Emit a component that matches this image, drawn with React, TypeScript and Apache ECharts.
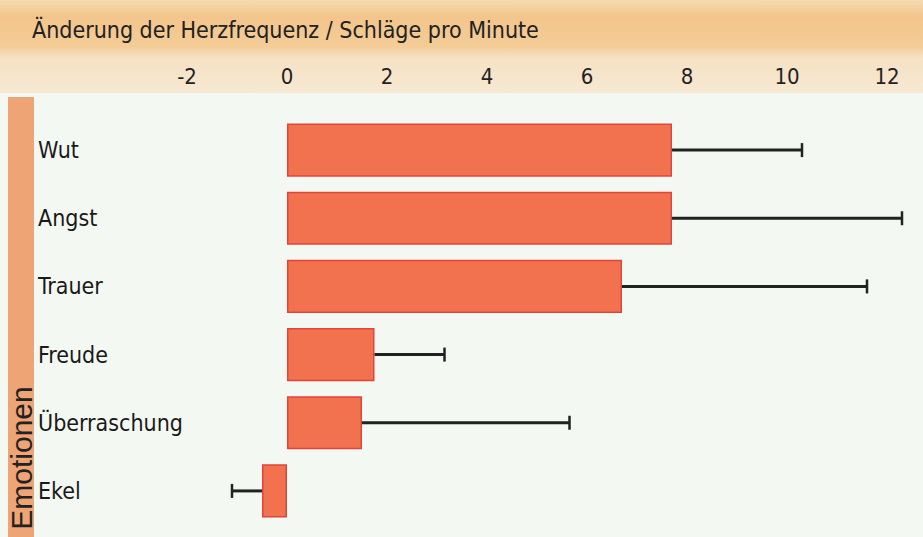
import React, { useEffect, useRef } from "react";
import * as echarts from "echarts";

const categories = ["Wut", "Angst", "Trauer", "Freude", "Überraschung", "Ekel"];
const meanValues = [7.7, 7.7, 6.7, 1.75, 1.5, -0.5];
const errorEnds = [10.3, 12.3, 11.6, 3.15, 5.65, -1.1];
const tickMin = -2;
const tickMax = 12;
const tickStep = 2;
const titleText = "Änderung der Herzfrequenz / Schläge pro Minute";
const sideLabel = "Emotionen";

const NARROW = "'DejaVu Sans Condensed', 'Liberation Sans Narrow', sans-serif";

export default function App() {
  const ref = useRef<HTMLDivElement>(null);
  useEffect(() => {
    if (!ref.current) return;
    const chart = echarts.init(ref.current, undefined, { renderer: "svg" });
    const errData = categories.map((c, i) => [meanValues[i], i, errorEnds[i]]);
    chart.setOption({
      animation: false,
      backgroundColor: "#f4f8f2",
      title: {
        text: titleText,
        left: 27,
        top: 13,
        textStyle: { fontFamily: NARROW, fontSize: 23, fontWeight: "normal", color: "#222" },
      },
      graphic: [
        {
          type: "rect",
          z: -10,
          shape: { x: 0, y: 0, width: 923, height: 93 },
          style: {
            fill: new echarts.graphic.LinearGradient(0, 0, 0, 1, [
              { offset: 0, color: "#f6dcb0" },
              { offset: 0.18, color: "#f3c58c" },
              { offset: 0.5, color: "#f4cc96" },
              { offset: 0.62, color: "#f6e2c4" },
              { offset: 1, color: "#f6e8d2" },
            ]),
          },
        },
        {
          type: "rect",
          z: -10,
          shape: { x: 8, y: 97, width: 26, height: 440 },
          style: { fill: "#efa476" },
        },
        {
          type: "text",
          x: 21,
          y: 458,
          rotation: Math.PI / 2,
          style: {
            text: sideLabel,
            fontFamily: "'Liberation Sans', Arial, sans-serif",
            fontSize: 30,
            fill: "#222",
            align: "center",
            verticalAlign: "middle",
          },
        },
      ],
      grid: { left: 187, right: 36, top: 116, bottom: 12 },
      xAxis: {
        type: "value",
        position: "top",
        min: tickMin,
        max: tickMax,
        interval: tickStep,
        axisLine: { show: false },
        axisTick: { show: false },
        splitLine: { show: false },
        axisLabel: { fontFamily: NARROW, fontSize: 22, color: "#222", margin: 29 },
      },
      yAxis: {
        type: "category",
        inverse: true,
        data: categories,
        axisLine: { show: false },
        axisTick: { show: false },
        axisLabel: { fontFamily: NARROW, fontSize: 23, color: "#1a1a1a", align: "left", margin: 149 },
      },
      series: [
        {
          type: "bar",
          data: meanValues,
          barWidth: "78%",
          itemStyle: { color: "#f2714f", borderColor: "#e2443a", borderWidth: 1.5 },
        },
        {
          type: "custom",
          data: errData,
          encode: { x: [0, 2], y: 1 },
          z: 5,
          renderItem: (params: any, api: any) => {
            const s = api.coord([api.value(0), api.value(1)]);
            const e = api.coord([api.value(2), api.value(1)]);
            const st = { stroke: "#222", lineWidth: 3 };
            return {
              type: "group",
              children: [
                { type: "line", shape: { x1: s[0], y1: s[1], x2: e[0], y2: e[1] }, style: st },
                { type: "line", shape: { x1: e[0], y1: e[1] - 7, x2: e[0], y2: e[1] + 7 }, style: { stroke: "#222", lineWidth: 2.5 } },
              ],
            };
          },
        },
      ],
    });
    return () => chart.dispose();
  }, []);
  return <div ref={ref} style={{ position: "fixed", left: 0, top: 0, width: 923, height: 537 }} />;
}
